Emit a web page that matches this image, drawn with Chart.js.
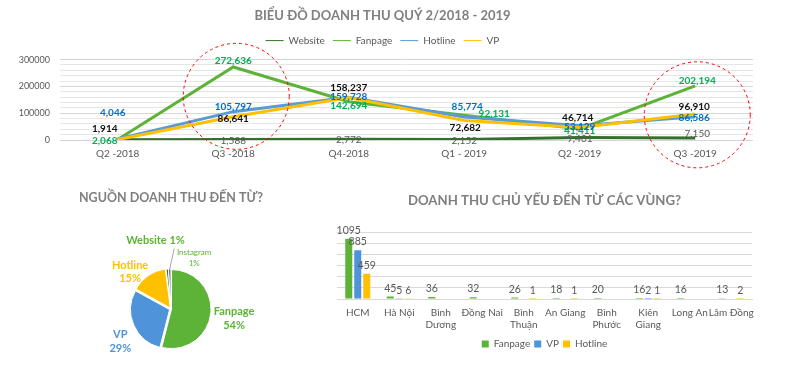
<!DOCTYPE html>
<html>
<head>
<meta charset="utf-8">
<script src="https://cdn.jsdelivr.net/npm/chart.js@4.4.0/dist/chart.umd.min.js"></script>
<style>
  body { margin: 0; background: #fff; width: 787px; height: 372px; overflow: hidden; position: relative; }
  canvas { position: absolute; }
  #quarterChart { left: 0; top: 0; }
  #sourceChart { left: 0; top: 180px; }
  #regionChart { left: 330px; top: 180px; }
</style>
</head>
<body>
<canvas id="quarterChart" width="787" height="175"></canvas>
<canvas id="sourceChart" width="330" height="192"></canvas>
<canvas id="regionChart" width="457" height="192"></canvas>
<script>
// revenue by quarter
const quarters = ["Q2 -2018", "Q3 -2018", "Q4-2018", "Q1 - 2019", "Q2 -2019", "Q3 -2019"];
const website = [1000, 1588, 2772, 2152, 9401, 7150];
const fanpage = [2068, 272636, 142694, 92131, 41411, 202194];
const hotline = [4046, 105797, 159728, 85774, 53129, 86586];
const vp = [1914, 86641, 158237, 72682, 46714, 96910];
const revenueTicks = [0, 20000, 40000, 60000, 80000, 100000, 120000, 140000, 160000, 180000,
  200000, 220000, 240000, 260000, 280000, 300000];

// share of revenue by source (%)
const sourceLabels = ["Fanpage", "VP", "Hotline", "Website", "Instagram"];
const sourceShare = [54, 29, 15, 1, 1];

// revenue by region
const regions = ["HCM", "Hà Nội", ["Bình", "Dương"], "Đồng Nai", ["Bình", "Thuận"], "An Giang",
  ["Bình", "Phước"], ["Kiên", "Giang"], "Long An", "Lâm Đồng"];
const regionFanpage = [1095, 45, 36, 32, 26, 18, 20, 16, 16, 13];
const regionVP = [885, 5, null, null, null, null, null, 2, null, null];
const regionHotline = [459, 6, null, null, 1, 1, null, 1, null, 2];

Chart.defaults.font.family = "Lato, 'Open Sans', sans-serif";
Chart.defaults.color = "#595959";

const GREEN = "#5cb338", DARKGREEN = "#33702b", BLUE = "#4f93da", YELLOW = "#ffc000";

// value labels next to line points, shifted per point
const pointLabels = {
  id: "pointLabels",
  afterDatasetsDraw(chart) {
    const ctx = chart.ctx;
    chart.data.datasets.forEach((ds, di) => {
      if (!ds.labelShift) return;
      const meta = chart.getDatasetMeta(di);
      ctx.save();
      ctx.font = ds.labelFont;
      ctx.fillStyle = ds.labelColor;
      ctx.textAlign = "center";
      ctx.textBaseline = "middle";
      meta.data.forEach((pt, i) => {
        const s = ds.labelShift[i];
        if (!s) return;
        ctx.fillText(ds.data[i].toLocaleString("en-US"), pt.x + s[0], pt.y + s[1]);
      });
      ctx.restore();
    });
  },
};

// dashed red rings around highlighted quarters
const ringMarks = {
  id: "ringMarks",
  afterDraw(chart, args, opts) {
    const ctx = chart.ctx;
    const xs = chart.scales.x, ys = chart.scales.y;
    ctx.save();
    ctx.strokeStyle = "#ff0000";
    ctx.lineWidth = 1;
    ctx.setLineDash([3, 3]);
    opts.items.forEach((it) => {
      ctx.beginPath();
      ctx.arc(xs.getPixelForValue(it.index) + it.dx, ys.getPixelForValue(it.value), it.r, 0, Math.PI * 2);
      ctx.stroke();
    });
    ctx.restore();
  },
};

new Chart(document.getElementById("quarterChart"), {
  type: "line",
  data: {
    labels: quarters,
    datasets: [
      {
        label: "Website", data: website, borderColor: DARKGREEN, backgroundColor: DARKGREEN, order: 4,
        labelColor: "#595959", labelFont: "10px Lato",
        labelShift: [null, [0, 1], [0, 1], [0, 1], [0, 1], [2, -4]],
      },
      {
        label: "Fanpage", data: fanpage, borderColor: GREEN, backgroundColor: GREEN, order: 3,
        labelColor: "#00b050", labelFont: "bold 10px Lato",
        labelShift: [[-13, 1], [0, -6], [0, 4], [30, -2], [0, 2], [2, -5]],
      },
      {
        label: "Hotline", data: hotline, borderColor: "#5b9bd5", backgroundColor: "#5b9bd5", order: 2,
        labelColor: "#0070c0", labelFont: "bold 10px Lato",
        labelShift: [[-5, -26], [0, -5], [0, 0], [3, -10], [0, 1], [-1, 1]],
      },
      {
        label: "VP", data: vp, borderColor: YELLOW, backgroundColor: YELLOW, order: 1,
        labelColor: "#111111", labelFont: "bold 10px Lato",
        labelShift: [[-13, -11], [0, 2], [0, -10], [1, 7], [-2, -10], [-1, -7]],
      },
    ],
  },
  options: {
    responsive: false,
    animation: false,
    layout: { padding: { left: 12, right: 34, bottom: 7 } },
    elements: { line: { borderWidth: 3, tension: 0 }, point: { radius: 0 } },
    scales: {
      x: {
        offset: true,
        grid: { display: false, drawTicks: false },
        border: { display: false },
        ticks: { font: { size: 10 }, color: "#595959", padding: 8 },
      },
      y: {
        min: 0,
        max: 315000,
        afterFit(s) { s.width = 48; },
        afterBuildTicks(s) { s.ticks = revenueTicks.map((v) => ({ value: v })); },
        border: { display: false },
        grid: {
          drawTicks: false,
          color: (c) => (c.tick && c.tick.value % 100000 === 0 ? "#d6d6d6" : "#e6e6e6"),
        },
        ticks: {
          autoSkip: false,
          padding: 10,
          font: { size: 9 },
          color: "#595959",
          callback: (v) => (v % 100000 === 0 ? String(v) : ""),
        },
      },
    },
    plugins: {
      title: {
        display: true,
        text: "BIỂU ĐỒ DOANH THU QUÝ 2/2018 - 2019",
        font: { size: 13, weight: "bold" },
        color: "#7f7f7f",
        padding: { top: 8, bottom: 4 },
      },
      legend: {
        labels: {
          usePointStyle: true,
          pointStyle: "line",
          pointStyleWidth: 18,
          padding: 8,
          font: { size: 10 },
          color: "#595959",
          sort: (a, b) => a.datasetIndex - b.datasetIndex,
        },
      },
      tooltip: { enabled: false },
      ringMarks: {
        items: [
          { index: 1, value: 163000, dx: 3, r: 53 },
          { index: 5, value: 94000, dx: 2, r: 53 },
        ],
      },
    },
  },
  plugins: [pointLabels, ringMarks],
});

// labels around the pie, placed along each slice's middle angle
const pieLabels = {
  id: "pieLabels",
  afterDatasetsDraw(chart, args, opts) {
    const ctx = chart.ctx;
    const meta = chart.getDatasetMeta(0);
    const ds = chart.data.datasets[0];
    ctx.save();
    ctx.textAlign = "center";
    ctx.textBaseline = "middle";
    meta.data.forEach((arc, i) => {
      const p = opts.items[i];
      const mid = (arc.startAngle + arc.endAngle) / 2;
      const r = arc.outerRadius * 1.5;
      const x = arc.x + Math.cos(mid) * r + p.dx;
      const y = arc.y + Math.sin(mid) * r + p.dy;
      const name = chart.data.labels[i];
      const pct = ds.data[i] + "%";
      if (p.leader) {
        ctx.strokeStyle = "#a6a6a6";
        ctx.lineWidth = 1;
        ctx.beginPath();
        ctx.moveTo(arc.x + Math.cos(mid) * (arc.outerRadius + 1), arc.y + Math.sin(mid) * (arc.outerRadius + 1));
        ctx.lineTo(x + p.leader[0], y + p.leader[1]);
        ctx.stroke();
      }
      ctx.font = p.font;
      ctx.fillStyle = p.color;
      if (p.oneLine) {
        ctx.fillText(name + " " + pct, x, y);
      } else {
        ctx.fillText(name, x, y - p.lh / 2);
        ctx.fillText(pct, x, y + p.lh / 2);
      }
    });
    ctx.restore();
  },
};

new Chart(document.getElementById("sourceChart"), {
  type: "pie",
  data: {
    labels: sourceLabels,
    datasets: [{
      data: sourceShare,
      backgroundColor: [GREEN, BLUE, YELLOW, DARKGREEN, "#44546a"],
      borderColor: "#ffffff",
      borderWidth: 1,
      offset: [2, 6, 5, 2, 2],
      radius: 39,
    }],
  },
  options: {
    responsive: false,
    animation: false,
    layout: { padding: { left: 12 } },
    plugins: {
      legend: { display: false },
      tooltip: { enabled: false },
      title: {
        display: true,
        text: "NGUỒN DOANH THU ĐẾN TỪ?",
        font: { size: 12.5, weight: "bold" },
        color: "#7f7f7f",
        padding: { top: 10, bottom: 41 },
      },
      pieLabels: {
        items: [
          { dx: 5, dy: 2, font: "bold 11px Lato", color: GREEN, lh: 14 },
          { dx: 3, dy: 9, font: "bold 11px Lato", color: BLUE, lh: 14 },
          { dx: -8, dy: 11, font: "bold 11px Lato", color: YELLOW, lh: 13 },
          { dx: -10, dy: -10, font: "bold 11px Lato", color: GREEN, oneLine: true },
          { dx: 25, dy: 7, font: "8px Lato", color: GREEN, lh: 11, leader: [-20, -9] },
        ],
      },
    },
  },
  plugins: [pieLabels],
});

// values on top of bars
const barValues = {
  id: "barValues",
  afterDatasetsDraw(chart) {
    const ctx = chart.ctx;
    ctx.save();
    ctx.font = "10.5px Lato";
    ctx.fillStyle = "#595959";
    ctx.textAlign = "center";
    ctx.textBaseline = "bottom";
    chart.data.datasets.forEach((ds, di) => {
      chart.getDatasetMeta(di).data.forEach((bar, i) => {
        const v = ds.data[i];
        if (v == null) return;
        ctx.fillText(String(v), bar.x, bar.y - 3);
      });
    });
    ctx.restore();
  },
};

new Chart(document.getElementById("regionChart"), {
  type: "bar",
  data: {
    labels: regions,
    datasets: [
      { label: "Fanpage", data: regionFanpage, backgroundColor: GREEN },
      { label: "VP", data: regionVP, backgroundColor: BLUE },
      { label: "Hotline", data: regionHotline, backgroundColor: YELLOW },
    ],
  },
  options: {
    responsive: false,
    animation: false,
    layout: { padding: { left: 7, right: 35, bottom: 13 } },
    datasets: { bar: { categoryPercentage: 0.65, barPercentage: 0.78 } },
    scales: {
      x: {
        grid: { display: false, drawTicks: false },
        border: { color: "#d9d9d9" },
        ticks: { font: { size: 10 }, color: "#595959", maxRotation: 0, autoSkip: false, padding: 8 },
        afterFit(s) { s.height = 36; },
      },
      y: {
        min: 0,
        max: 1200,
        ticks: { display: false, stepSize: 200 },
        grid: { color: "#d9d9d9", drawTicks: false },
        border: { display: false },
      },
    },
    plugins: {
      title: {
        display: true,
        text: "DOANH THU CHỦ YẾU ĐẾN TỪ CÁC VÙNG?",
        font: { size: 13.2, weight: "bold" },
        color: "#7f7f7f",
        padding: { top: 13, bottom: 24 },
      },
      legend: {
        position: "bottom",
        labels: { boxWidth: 7, boxHeight: 7, padding: 4, font: { size: 10 }, color: "#595959" },
      },
      tooltip: { enabled: false },
    },
  },
  plugins: [barValues],
});
</script>
</body>
</html>
